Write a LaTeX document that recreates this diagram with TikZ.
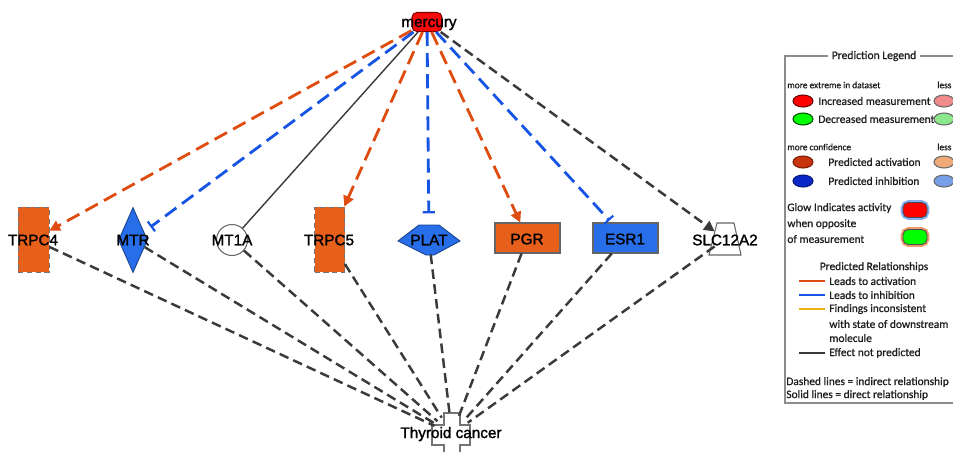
\documentclass[tikz,border=0pt]{standalone}
\usepackage{fontspec}
\setmainfont{Liberation Sans}
\newfontfamily\nodefont{Liberation Sans}[FakeBold=1.5]
\newfontfamily\legfont{Carlito}[FakeBold=0.8]
\usetikzlibrary{shapes.geometric,arrows.meta,calc}
\newcommand{\pxu}{0.02cm}
\definecolor{nodeorange}{RGB}{230,96,28}
\definecolor{nodeblue}{RGB}{40,110,232}
\definecolor{edgeorange}{RGB}{222,76,16}
\definecolor{edgeblue}{RGB}{22,84,228}
\definecolor{edgegray}{RGB}{58,58,58}
\definecolor{mercred}{RGB}{250,10,10}
\definecolor{legdarkorange}{RGB}{200,52,12}
\definecolor{legdarkblue}{RGB}{10,40,200}
\definecolor{legpink}{RGB}{240,140,140}
\definecolor{leglightgreen}{RGB}{140,232,140}
\definecolor{leglightorange}{RGB}{240,170,120}
\definecolor{leglightblue}{RGB}{120,160,232}
\definecolor{legyellow}{RGB}{232,180,20}
\definecolor{legtext}{RGB}{30,30,30}
\begin{document}
\begin{tikzpicture}[x=0.02cm,y=-0.02cm,
  lbl/.style={font=\nodefont\fontsize{8.7}{10}\selectfont, text=black, inner sep=0},
  orect/.style={rectangle, fill=nodeorange, draw=black!55, densely dashed, line width=0.5pt, inner sep=0},
  srect/.style={rectangle, inner sep=0, line width=0.6pt},
  act/.style={draw=edgeorange, line width=1.6pt, dash pattern=on 8pt off 4pt, -{Triangle[length=6pt,width=6pt]}},
  inh/.style={draw=edgeblue, line width=1.6pt, dash pattern=on 8pt off 4pt, -{Bar[width=7pt,line width=1.2pt]}},
  ind/.style={draw=edgegray, line width=1.4pt, dash pattern=on 5.5pt off 3pt},
  indarr/.style={ind, -{Triangle[length=6pt,width=6pt]}},
  dir/.style={draw=edgegray, line width=0.8pt},
  leg/.style={font=\legfont\fontsize{6.5}{7.5}\selectfont, text=legtext, inner sep=0, anchor=west},
  legsmall/.style={font=\legfont\fontsize{5.3}{6}\selectfont, text=legtext, inner sep=0, anchor=west},
  legell/.style={ellipse, minimum width=20*\pxu, minimum height=12*\pxu, inner sep=0, line width=0.6pt},
  legline/.style={line width=1.6pt}
]
\useasboundingbox (0,0) rectangle (953,451);
\clip (0,0) rectangle (953,451);
\fill[white] (0,0) rectangle (953,451);

% ---- nodes (shapes) ----
\node[srect, rounded corners=2.8pt, fill=mercred, draw=red!50!black, minimum width=30*\pxu, minimum height=19*\pxu] (merc) at (427,22) {};
\node[orect, minimum width=31*\pxu, minimum height=65*\pxu] (trpc4) at (33.5,239.5) {};
\node[diamond, fill=nodeblue, draw=nodeblue!60!black, line width=0.5pt, inner sep=0, minimum width=29*\pxu, minimum height=65*\pxu] (mtr) at (133,240) {};
\node[circle, fill=white, draw=black!60, line width=0.6pt, inner sep=0, minimum size=31*\pxu] (mt1a) at (232,240) {};
\node[orect, minimum width=30*\pxu, minimum height=65*\pxu] (trpc5) at (329.5,239.5) {};
\fill[nodeblue, draw=nodeblue!60!black, line width=0.5pt] (398,241) -- (419,225) -- (439,225) -- (460,241) -- (434,255) -- (426,255) -- cycle;
\node[diamond, inner sep=0, minimum width=62*\pxu, minimum height=30*\pxu] (plat) at (429,240) {};
\node[srect, fill=nodeorange, draw=black!60, minimum width=65*\pxu, minimum height=30*\pxu] (pgr) at (527.5,238) {};
\node[srect, fill=nodeblue, draw=black!60, minimum width=65*\pxu, minimum height=30*\pxu] (esr1) at (625.5,238) {};
\filldraw[fill=white, draw=black!60, line width=0.6pt] (709,255) -- (717,223) -- (734,223) -- (741,255) -- cycle;
\node[rectangle, inner sep=0, minimum width=20*\pxu, minimum height=32*\pxu] (slc) at (725,239) {};
\filldraw[fill=white, draw=black!55, line width=0.6pt] (444,413) -- (460,413) -- (460,425) -- (470,425) -- (470,445) -- (460,445) -- (460,470) -- (444,470) -- (444,445) -- (432,445) -- (432,425) -- (444,425) -- cycle;
\node[circle, inner sep=0, minimum size=38*\pxu] (thy) at (452,434) {};

% ---- connectors from mercury ----
\draw[act] (merc) -- (trpc4);
\draw[inh, shorten >=4.5pt] (merc) -- (mtr);
\draw[dir] (merc) -- (mt1a);
\draw[act] (merc) -- (trpc5);
\draw[inh, shorten >=6.5pt] (merc) -- (plat);
\draw[act] (merc) -- (pgr);
\draw[inh, shorten >=1.5pt] (merc) -- (esr1);
\draw[indarr] (merc) -- (slc);

% ---- connectors to thyroid cancer ----
\foreach \s in {trpc4,mtr,mt1a,trpc5,plat,pgr,esr1,slc}
  \draw[ind] (\s) -- (thy);

% ---- labels ----
\node[lbl, anchor=base] (lmerc) at (429,27) {mercury};
\node[lbl] (ltrpc4) at (33,240) {TRPC4};
\node[lbl] (lmtr) at (133,240) {MTR};
\node[lbl] (lmt1a) at (232,240) {MT1A};
\node[lbl] (ltrpc5) at (329,240) {TRPC5};
\node[lbl] (lplat) at (429,240) {PLAT};
\node[lbl] (lpgr) at (527,239) {PGR};
\node[lbl] (lesr1) at (625,239) {ESR1};
\node[lbl] (lslc) at (725,240) {SLC12A2};
\node[lbl, anchor=base] (lthy) at (451,438) {Thyroid cancer};

% ---- legend ----
\draw[black!45, line width=0.6pt] (785,56) rectangle (975,403);
\node[font=\legfont\fontsize{6.6}{7.5}\selectfont, text=legtext, fill=white, inner xsep=2pt, inner ysep=0] (legtitle) at (874,56) {Prediction Legend};
\node[legsmall] (t1) at (787,85) {more extreme in dataset};
\node[legsmall] (t1b) at (937,85) {less};
\node[legell, fill=red, draw=red!40!black] (e1) at (803,101) {};
\node[leg] (t2) at (818,101) {Increased measurement};
\node[legell, fill=legpink, draw=black!60] (e1b) at (944,101) {};
\node[legell, fill=green, draw=green!30!black] (e2) at (803,119) {};
\node[leg] (t3) at (818,119) {Decreased measurement};
\node[legell, fill=leglightgreen, draw=black!60] (e2b) at (944,119) {};
\node[legsmall] (t4) at (787,147) {more confidence};
\node[legsmall] (t4b) at (937,147) {less};
\node[legell, fill=legdarkorange, draw=legdarkorange!60!black] (e3) at (803,162) {};
\node[leg] (t5) at (828,162) {Predicted activation};
\node[legell, fill=leglightorange, draw=black!60] (e3b) at (944,162) {};
\node[legell, fill=legdarkblue, draw=legdarkblue!60!black] (e4) at (803,181) {};
\node[leg] (t6) at (828,181) {Predicted inhibition};
\node[legell, fill=leglightblue, draw=black!60] (e4b) at (944,181) {};
\node[leg] (t7) at (787,208) {Glow Indicates activity};
\node[leg] (t8) at (787,224) {when opposite};
\node[leg] (t9) at (787,239) {of measurement};
\node[rectangle, rounded corners=3pt, minimum width=24*\pxu, minimum height=15*\pxu, inner sep=0, fill=red, draw=black!70, line width=0.5pt, preaction={draw=nodeblue!80, line width=2.6pt, opacity=0.7}] (g1) at (915,210) {};
\node[rectangle, rounded corners=3pt, minimum width=24*\pxu, minimum height=15*\pxu, inner sep=0, fill=green, draw=black!70, line width=0.5pt, preaction={draw=nodeorange!90, line width=2.6pt, opacity=0.7}] (g2) at (915,237) {};
\node[font=\legfont\fontsize{6.5}{7.5}\selectfont, text=legtext, inner sep=0] (t10) at (874,267) {Predicted Relationships};
\draw[legline, edgeorange] (799,281) -- (825,281);
\node[leg] (t11) at (829,281) {Leads to activation};
\draw[legline, edgeblue] (799,295) -- (825,295);
\node[leg] (t12) at (829,295) {Leads to inhibition};
\draw[legline, legyellow] (799,309) -- (825,309);
\node[leg] (t13) at (829,309) {Findings inconsistent};
\node[leg] (t14) at (829,324) {with state of downstream};
\node[leg] (t15) at (829,338) {molecule};
\draw[legline, edgegray] (799,353) -- (825,353);
\node[leg] (t16) at (829,353) {Effect not predicted};
\node[leg] (t17) at (786,382) {Dashed lines = indirect relationship};
\node[leg] (t18) at (786,395) {Solid lines = direct relationship};
\end{tikzpicture}
\end{document}
